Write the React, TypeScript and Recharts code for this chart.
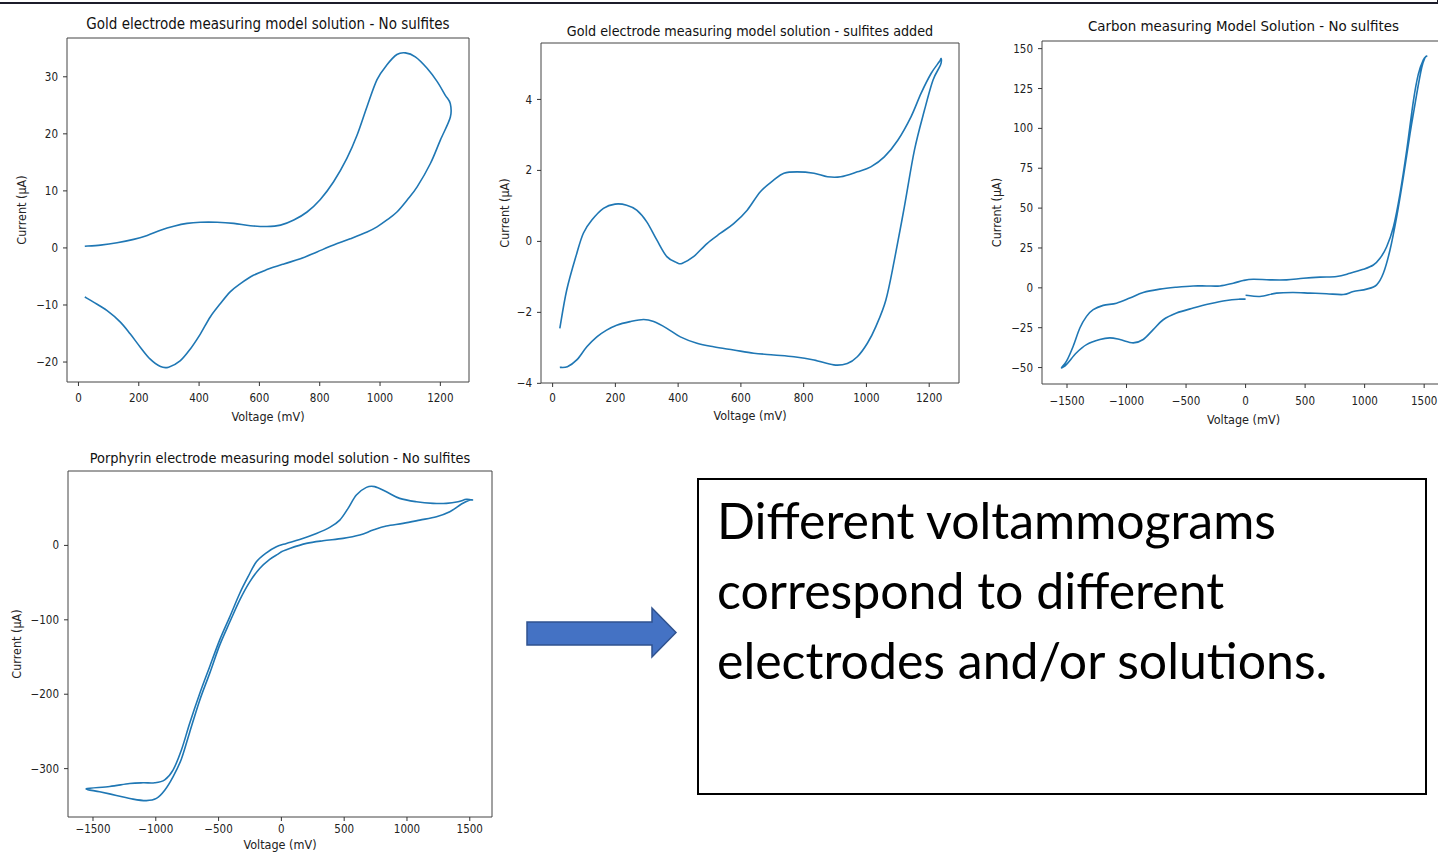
import React from 'react';
import { LineChart, Line, XAxis, YAxis, ReferenceArea } from 'recharts';

// Gold electrode, no sulfites
const goldVoltage = [21, 73, 128, 183, 228, 272, 316, 360, 404, 460, 515, 570, 625, 670, 714, 758, 802, 846, 890, 924, 957, 990, 1023, 1056, 1084, 1117, 1156, 1189, 1216, 1233, 1233, 1200, 1167, 1123, 1090, 1056, 1023, 990, 957, 901, 846, 791, 736, 681, 625, 580, 536, 503, 470, 437, 404, 371, 337, 299, 272, 238, 205, 172, 139, 95, 50, 21];
const goldCurrent = [0.3, 0.5, 0.9, 1.5, 2.2, 3.1, 3.8, 4.3, 4.5, 4.5, 4.3, 3.9, 3.75, 4.0, 4.9, 6.3, 8.5, 11.6, 15.7, 19.8, 24.8, 29.5, 32.1, 33.9, 34.2, 33.5, 31.5, 29.2, 26.8, 25.3, 22.9, 18.9, 14.8, 10.7, 8.4, 6.3, 4.9, 3.7, 2.8, 1.6, 0.5, -0.7, -1.9, -2.8, -3.8, -4.8, -6.3, -7.7, -9.8, -12.1, -15.1, -17.7, -19.8, -20.9, -20.8, -19.5, -17.4, -15.1, -13, -11, -9.5, -8.6];

// Gold electrode, sulfites added
const sulfVoltage = [23, 45, 77, 98, 125, 162, 199, 236, 268, 300, 332, 364, 396, 412, 449, 492, 535, 577, 620, 662, 705, 737, 779, 833, 876, 918, 971, 1014, 1057, 1100, 1142, 1174, 1206, 1232, 1238, 1236, 1212, 1185, 1153, 1121, 1089, 1062, 1030, 1003, 971, 939, 896, 833, 769, 705, 641, 577, 513, 460, 407, 364, 322, 290, 247, 204, 172, 141, 109, 77, 47, 23];
const sulfCurrent = [-2.45, -1.37, -0.34, 0.23, 0.6, 0.93, 1.05, 1.02, 0.88, 0.55, 0.04, -0.43, -0.6, -0.62, -0.43, -0.06, 0.23, 0.5, 0.88, 1.4, 1.73, 1.92, 1.96, 1.92, 1.82, 1.82, 1.96, 2.1, 2.38, 2.85, 3.51, 4.17, 4.73, 5.06, 5.15, 4.97, 4.54, 3.7, 2.57, 0.98, -0.53, -1.65, -2.4, -2.87, -3.25, -3.44, -3.48, -3.34, -3.25, -3.2, -3.15, -3.06, -2.97, -2.87, -2.69, -2.45, -2.26, -2.2, -2.26, -2.36, -2.5, -2.69, -2.97, -3.34, -3.53, -3.55];

// Carbon, no sulfites
const carbonVoltage = [0, 120, 260, 400, 540, 680, 821, 905, 1017, 1101, 1157, 1213, 1269, 1325, 1381, 1437, 1479, 1507, 1521, 1493, 1451, 1409, 1353, 1297, 1241, 1185, 1129, 1073, 989, 877, 765, 625, 485, 344, 204, 64, -20, -104, -216, -328, -440, -580, -720, -860, -972, -1084, -1196, -1280, -1336, -1392, -1448, -1504, -1546, -1504, -1420, -1336, -1224, -1140, -1056, -944, -860, -776, -692, -580, -440, -300, -160, -48, 0];
const carbonCurrent = [-4.6, -5.4, -3.3, -2.9, -3.3, -3.7, -4.2, -2.3, -0.8, 1.9, 9.1, 23.7, 44.5, 69.4, 96.5, 121.4, 138, 144.3, 145.3, 143, 134, 117, 86, 59, 38, 25.8, 18.5, 14.3, 11.6, 9.1, 7.1, 6.7, 6, 5, 5, 5.4, 4.6, 2.9, 1.2, 1.2, 1.2, 0.4, -0.8, -2.9, -6.4, -9.6, -11, -13.7, -17.9, -25.2, -36.6, -46, -50.1, -48, -40.7, -35.6, -32.4, -31.4, -32.4, -34.5, -32.4, -26.2, -20, -15.8, -12.7, -10, -7.9, -7.1, -7.1];

// Porphyrin electrode, no sulfites
const porphVoltage = [0, 66, 199, 332, 491, 624, 730, 836, 969, 1102, 1235, 1341, 1434, 1500, 1521, 1473, 1407, 1314, 1208, 1075, 942, 836, 743, 677, 597, 531, 465, 385, 279, 146, 40, -40, -119, -199, -265, -332, -411, -491, -571, -650, -730, -796, -863, -929, -1009, -1102, -1208, -1367, -1553, -1447, -1314, -1181, -1075, -995, -929, -863, -796, -730, -650, -571, -491, -411, -332, -252, -173, -93, -27, 0];
const porphCurrent = [-8.5, -4, 2.7, 6.3, 9.4, 13.9, 20.6, 26, 29.6, 34, 38.6, 45.3, 55.6, 61, 61, 62, 58.7, 56.5, 56.5, 58.7, 63.2, 72, 79, 78, 67.7, 49.8, 34, 24.2, 16.1, 8, 2.7, -1.8, -9.9, -22, -42, -64.6, -96, -127, -163, -199, -239, -275, -302, -315, -319, -319, -320, -324, -327, -331, -336, -341, -343, -340, -329, -311, -287, -251, -208, -172, -134, -103, -73.5, -49, -31, -18.8, -11.7, -8.5];

const goldXTicks = [0, 200, 400, 600, 800, 1000, 1200];
const goldYTicks = [-20, -10, 0, 10, 20, 30];
const sulfYTicks = [-4, -2, 0, 2, 4];
const wideXTicks = [-1500, -1000, -500, 0, 500, 1000, 1500];
const carbonYTicks = [-50, -25, 0, 25, 50, 75, 100, 125, 150];
const porphYTicks = [-300, -200, -100, 0];

const FONT = "'DejaVu Sans Condensed', 'DejaVu Sans', sans-serif";
const BLUE = '#1f77b4';

const toRows = (v: number[], c: number[]) => v.map((x, i) => ({ v: x, c: c[i] }));
const fmt = (n: number) => (n < 0 ? '\u2212' + Math.abs(n) : String(n));

// catmull-rom through the scaled points, works for closed loops
const smoothLoop = (context: any) => {
  let pts: number[][] = [];
  return {
    areaStart() {},
    areaEnd() {},
    lineStart() { pts = []; },
    point(x: number, y: number) { pts.push([+x, +y]); },
    lineEnd() {
      if (!pts.length) return;
      context.moveTo(pts[0][0], pts[0][1]);
      for (let i = 0; i < pts.length - 1; i++) {
        const p0 = pts[i - 1] || pts[i];
        const p1 = pts[i];
        const p2 = pts[i + 1];
        const p3 = pts[i + 2] || p2;
        context.bezierCurveTo(
          p1[0] + (p2[0] - p0[0]) / 6, p1[1] + (p2[1] - p0[1]) / 6,
          p2[0] - (p3[0] - p1[0]) / 6, p2[1] - (p3[1] - p1[1]) / 6,
          p2[0], p2[1]
        );
      }
    },
  };
};

type PanelProps = {
  title: string;
  titleSize: number;
  voltage: number[];
  current: number[];
  xTicks: number[];
  yTicks: number[];
  xDomain: [number, number];
  yDomain: [number, number];
  plot: { x: number; y: number; w: number; h: number };
  titleY: number;
  yLabelX: number;
  xLabelOffset: number;
  xTickGap: number;
};

const ML = 60, MT = 10, MR = 20, MB = 50;

const Panel: React.FC<PanelProps> = ({ title, titleSize, voltage, current, xTicks, yTicks, xDomain, yDomain, plot, titleY, yLabelX, xLabelOffset, xTickGap }) => {
  const data = toRows(voltage, current);
  const tick = { fontSize: 11.5, fill: '#222', fontFamily: FONT };
  return (
    <>
      <div style={{ position: 'absolute', left: plot.x - 20, top: titleY - 9, width: plot.w + 40, textAlign: 'center', fontFamily: FONT, fontSize: titleSize, lineHeight: '18px', color: '#111', whiteSpace: 'nowrap' }}>
        {title}
      </div>
      <div style={{ position: 'absolute', left: plot.x - ML, top: plot.y - MT }}>
        <LineChart width={plot.w + ML + MR} height={plot.h + MT + MB} data={data} margin={{ top: MT, right: MR, bottom: MB - 40, left: ML - 55 }}>
          <XAxis
            dataKey="v"
            type="number"
            domain={xDomain}
            allowDataOverflow
            ticks={xTicks}
            interval={0}
            tickFormatter={fmt}
            tick={tick}
            tickSize={4}
            tickMargin={xTickGap}
            axisLine={false}
            tickLine={{ stroke: '#333' }}
            height={40}
            label={{ value: 'Voltage (mV)', position: 'insideBottom', offset: xLabelOffset, style: { fontSize: 12.5, fontFamily: FONT, fill: '#222' } }}
          />
          <YAxis
            dataKey="c"
            type="number"
            domain={yDomain}
            allowDataOverflow
            ticks={yTicks}
            interval={0}
            tickFormatter={fmt}
            tick={tick}
            tickSize={4}
            tickMargin={5}
            axisLine={false}
            tickLine={{ stroke: '#333' }}
            width={55}
            label={{ value: 'Current (\u03bcA)', angle: -90, position: 'insideLeft', offset: yLabelX - (plot.x - 55), style: { textAnchor: 'middle', fontSize: 12.5, fontFamily: FONT, fill: '#222' } }}
          />
          <ReferenceArea x1={xDomain[0]} x2={xDomain[1]} y1={yDomain[0]} y2={yDomain[1]} fill="none" stroke="#444" strokeWidth={1} ifOverflow="visible" />
          <Line dataKey="c" type={smoothLoop as any} stroke={BLUE} strokeWidth={1.6} dot={false} activeDot={false} isAnimationActive={false} />
        </LineChart>
      </div>
    </>
  );
};

export default function App() {
  return (
    <div style={{ position: 'fixed', left: 0, top: 0, width: 1438, height: 852, background: '#fff', overflow: 'hidden' }}>
      <div style={{ position: 'absolute', left: -4, top: -12, width: 1439, height: 12, border: '2px solid #1c1c2a' }} />
      <Panel
        title="Gold electrode measuring model solution - No sulfites"
        titleSize={15}
        voltage={goldVoltage}
        current={goldCurrent}
        xTicks={goldXTicks}
        yTicks={goldYTicks}
        xDomain={[-38, 1295]}
        yDomain={[-23.5, 36.8]}
        plot={{ x: 67, y: 38, w: 402, h: 344 }}
        titleY={24}
        yLabelX={22}
        xLabelOffset={1}
        xTickGap={8}
      />
      <Panel
        title="Gold electrode measuring model solution - sulfites added"
        titleSize={14.2}
        voltage={sulfVoltage}
        current={sulfCurrent}
        xTicks={goldXTicks}
        yTicks={sulfYTicks}
        xDomain={[-37, 1295]}
        yDomain={[-3.99, 5.59]}
        plot={{ x: 541, y: 43, w: 418, h: 340 }}
        titleY={31}
        yLabelX={505}
        xLabelOffset={3}
        xTickGap={7}
      />
      <Panel
        title="Carbon measuring Model Solution - No sulfites"
        titleSize={14.9}
        voltage={carbonVoltage}
        current={carbonCurrent}
        xTicks={wideXTicks}
        yTicks={carbonYTicks}
        xDomain={[-1710, 1675]}
        yDomain={[-60.3, 154.8]}
        plot={{ x: 1042, y: 41, w: 403, h: 343 }}
        titleY={26}
        yLabelX={997}
        xLabelOffset={0}
        xTickGap={9}
      />
      <Panel
        title="Porphyrin electrode measuring model solution - No sulfites"
        titleSize={14.4}
        voltage={porphVoltage}
        current={porphCurrent}
        xTicks={wideXTicks}
        yTicks={porphYTicks}
        xDomain={[-1699, 1677]}
        yDomain={[-365, 100]}
        plot={{ x: 68, y: 471, w: 424, h: 346 }}
        titleY={458}
        yLabelX={17}
        xLabelOffset={8}
        xTickGap={4}
      />
      <svg style={{ position: 'absolute', left: 0, top: 0 }} width={1438} height={852} pointerEvents="none">
        <polygon points="527,622 652,622 652,608 676,632.5 652,657 652,645 527,645" fill="#4472C4" stroke="#2F528F" strokeWidth={1.5} />
      </svg>
      <div style={{ position: 'absolute', left: 697, top: 478, width: 730, height: 317, boxSizing: 'border-box', border: '2px solid #000', padding: '5px 0 0 18px', fontFamily: 'Lato, sans-serif', fontSize: 50, lineHeight: '70px', color: '#000' }}>
        Different voltammograms
        <br />
        correspond to different
        <br />
        electrodes and/or solutions.
      </div>
    </div>
  );
}
